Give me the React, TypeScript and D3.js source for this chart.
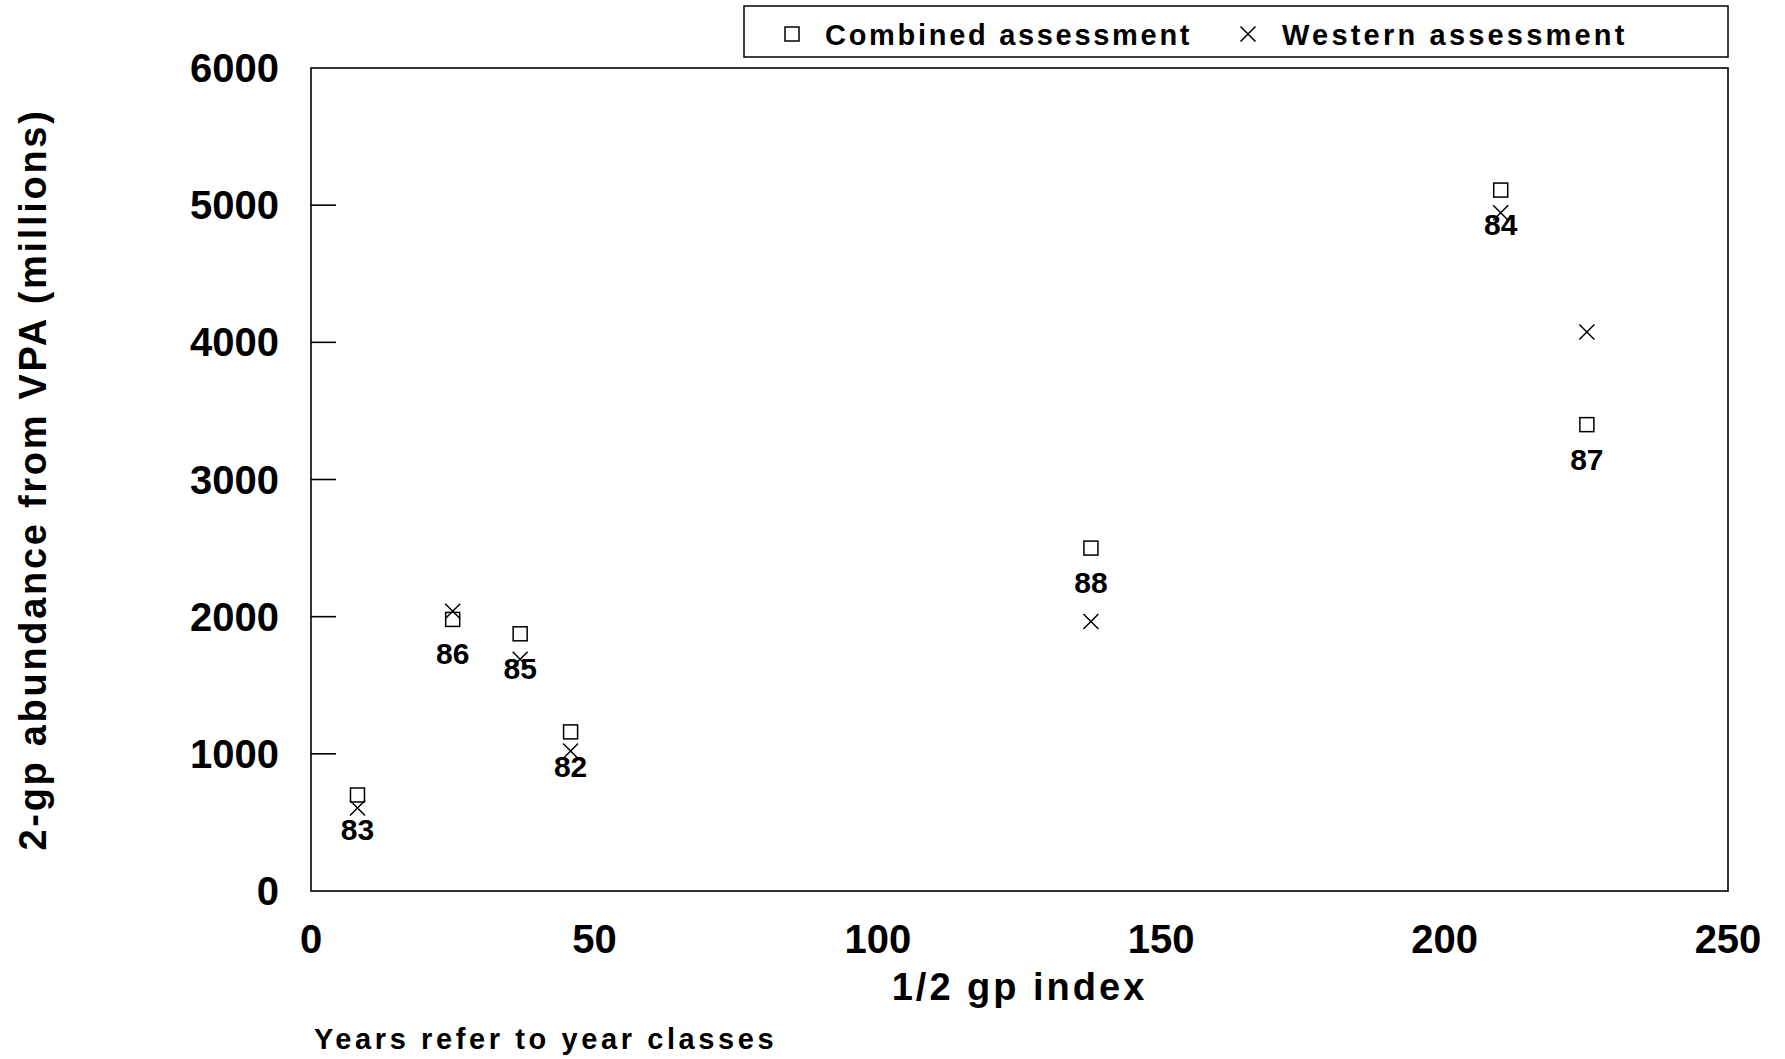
import React from "react";
import * as d3 from "d3";

const years = ["83", "86", "85", "82", "88", "84", "87"];
const halfGpIndex = [8.2, 25.0, 36.9, 45.8, 137.6, 209.9, 225.1];
const combined = [700, 1980, 1875, 1160, 2500, 5110, 3400];
const western = [605, 2040, 1690, 1020, 1965, 4945, 4075];
const yTicks = [0, 1000, 2000, 3000, 4000, 5000, 6000];
const xTicks = [0, 50, 100, 150, 200, 250];

const W = 1785;
const H = 1059;
const L = 311, R = 1728, T = 68, B = 891;
const FONT = "'Liberation Sans', Arial, Helvetica, sans-serif";

export default function App() {
  const x = d3.scaleLinear().domain([0, 250]).range([L, R]);
  const y = d3.scaleLinear().domain([0, 6000]).range([B, T]);
  const sq = 7;
  const cr = 7.5;
  const crossPath = (cx: number, cy: number, s: number) =>
    `M${cx - s},${cy - s}L${cx + s},${cy + s}M${cx - s},${cy + s}L${cx + s},${cy - s}`;

  return (
    <svg width={W} height={H} style={{ position: "absolute", left: 0, top: 0, background: "#fff" }} fontFamily={FONT}>
      <rect x={0} y={0} width={W} height={H} fill="#fff" />
      {/* legend */}
      <rect x={744} y={6} width={984} height={51} fill="none" stroke="#000" strokeWidth={1.5} />
      <rect x={792 - sq} y={34 - sq} width={sq * 2} height={sq * 2} fill="none" stroke="#000" strokeWidth={1.5} />
      <text x={825} y={45} fontSize={29} fontWeight="bold" letterSpacing={2.7}>Combined assessment</text>
      <path d={crossPath(1248, 34, cr)} stroke="#000" strokeWidth={1.5} fill="none" />
      <text x={1282} y={45} fontSize={29} fontWeight="bold" letterSpacing={3.2}>Western assessment</text>

      {/* frame */}
      <rect x={L} y={T} width={R - L} height={B - T} fill="none" stroke="#000" strokeWidth={1.6} />
      {yTicks.map((t) => (
        <g key={"y" + t}>
          {t > 0 && t < 6000 && <line x1={L} x2={L + 25} y1={y(t)} y2={y(t)} stroke="#000" strokeWidth={1.6} />}
          <text x={279} y={y(t) + 14} fontSize={40} fontWeight="bold" textAnchor="end">{t}</text>
        </g>
      ))}
      {xTicks.map((t) => (
        <text key={"x" + t} x={x(t)} y={953} fontSize={40} fontWeight="bold" textAnchor="middle">{t}</text>
      ))}
      <text x={(L + R) / 2} y={1000} fontSize={38} fontWeight="bold" textAnchor="middle" letterSpacing={3}>1/2 gp index</text>
      <text x={314} y={1049} fontSize={29} fontWeight="bold" letterSpacing={3.6}>Years refer to year classes</text>
      <text transform={`translate(46, ${(T + B) / 2}) rotate(-90)`} fontSize={38} fontWeight="bold" textAnchor="middle" letterSpacing={2.7}>
        2-gp abundance from VPA (millions)
      </text>

      {/* points */}
      {years.map((yr, i) => {
        const px = x(halfGpIndex[i]);
        const pyc = y(combined[i]);
        const pyw = y(western[i]);
        return (
          <g key={yr}>
            <rect x={px - sq} y={pyc - sq} width={sq * 2} height={sq * 2} fill="none" stroke="#000" strokeWidth={1.5} />
            <path d={crossPath(px, pyw, cr)} stroke="#000" strokeWidth={1.5} fill="none" />
            <text x={px} y={pyc + 45} fontSize={30} fontWeight="bold" textAnchor="middle">{yr}</text>
          </g>
        );
      })}
    </svg>
  );
}
